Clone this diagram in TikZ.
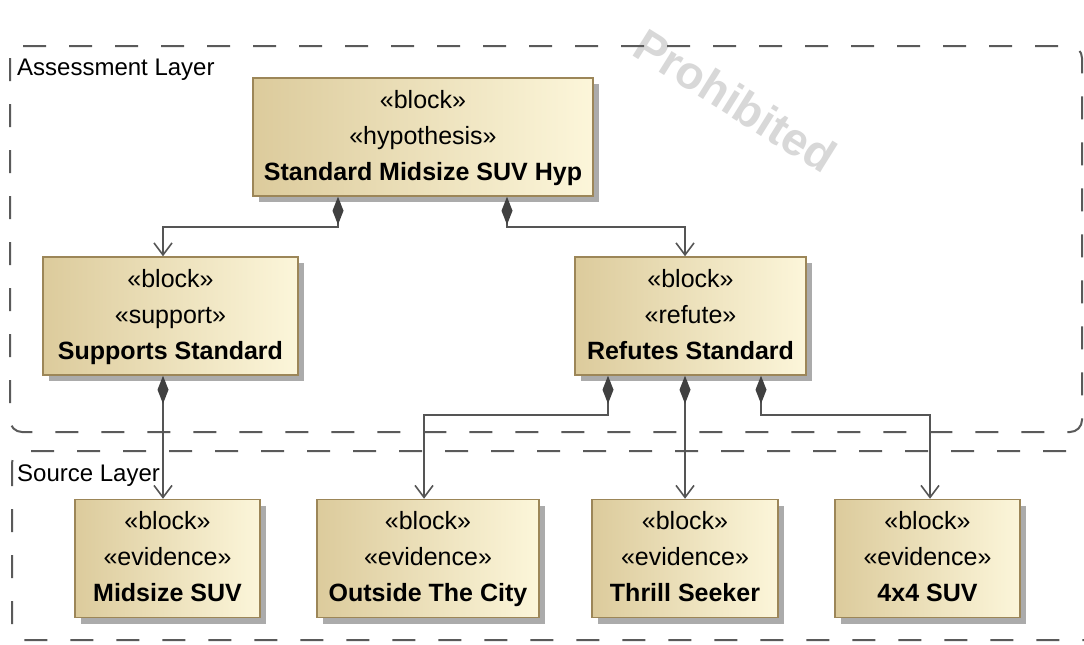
\documentclass[tikz,border=0pt]{standalone}
\usepackage{fontspec}
\setmainfont{Liberation Sans}
\usetikzlibrary{arrows.meta,shadows,calc}
\definecolor{boxL}{HTML}{DCCB9C}
\definecolor{boxR}{HTML}{FCF6DA}
\definecolor{boxB}{HTML}{9C8658}
\definecolor{lineC}{HTML}{555555}
\definecolor{diaC}{HTML}{404040}
\definecolor{frameC}{HTML}{5A5A5A}
\definecolor{wmC}{HTML}{D8D8D8}
\definecolor{shadowC}{HTML}{ABABAB}
\newcommand{\blocktext}[2]{\strut«block»\\«#1»\\\textbf{#2}\strut}
\begin{document}
\begin{tikzpicture}[x=1pt,y=-1pt,
  blk/.style={draw=boxB, line width=1.5pt, left color=boxL, right color=boxR,
    inner sep=0pt, align=center, font=\fontsize{25}{36}\selectfont,
    minimum height=118pt,
    drop shadow={shadow xshift=6pt, shadow yshift=-6pt, fill=shadowC, opacity=1, draw=none}},
  comp/.style={draw=lineC, line width=1.6pt,
    {Diamond[length=28pt,width=11pt,fill=diaC,color=diaC]}-{Straight Barb[length=12pt,width=18pt]}},
  frame/.style={draw=frameC, line width=2pt, dash pattern=on 23pt off 23pt, rounded corners=12pt},
  layerlabel/.style={anchor=base west, font=\fontsize{24}{28}\selectfont, inner sep=0pt},
  wm/.style={text=wmC, font=\fontsize{46}{50}\selectfont\bfseries, inner sep=0pt, rotate=-32}
]
\useasboundingbox (0,0) rectangle (1084,645);
\clip (0,0) rectangle (1084,645);
\fill[white] (0,0) rectangle (1084,645);

% watermark
\node[wm, anchor=base west] (wm1) at (630,54) {Prohibited};

% layer frames
\draw[frame] (10,46) rectangle (1082,432);
\draw[frame] (12,451) rectangle (1100,640);
\node[layerlabel] (al) at (17,75) {Assessment Layer};
\node[layerlabel] (sl) at (17,481) {Source Layer};

% blocks
\node[blk, minimum width=340pt] (hyp) at (423,137) {\blocktext{hypothesis}{Standard Midsize SUV Hyp}};
\node[blk, minimum width=255pt] (sup) at (170.5,316) {\blocktext{support}{Supports Standard}};
\node[blk, minimum width=231pt] (ref) at (690.5,316) {\blocktext{refute}{Refutes Standard}};
\node[blk, minimum width=185pt] (mid) at (167.5,558.5) {\blocktext{evidence}{Midsize SUV}};
\node[blk, minimum width=222pt] (out) at (428,558.5) {\blocktext{evidence}{Outside The City}};
\node[blk, minimum width=186pt] (thr) at (685,558.5) {\blocktext{evidence}{Thrill Seeker}};
\node[blk, minimum width=185pt] (fxf) at (927.5,558.5) {\blocktext{evidence}{4x4 SUV}};

% connectors
\draw[comp] ([xshift=-85pt]hyp.south) -- ++(0,30) -| ([xshift=-7.5pt]sup.north);
\draw[comp] ([xshift=84pt]hyp.south) -- ++(0,30) -| ([xshift=-5.5pt]ref.north);
\coordinate (s1) at ([xshift=-7.5pt]sup.south);
\draw[comp] (s1) -- (s1 |- mid.north);
\draw[comp] ([xshift=-82.5pt]ref.south) -- ++(0,39) -| ([xshift=-4pt]out.north);
\coordinate (r2) at ([xshift=-5.5pt]ref.south);
\draw[comp] (r2) -- (r2 |- thr.north);
\draw[comp] ([xshift=70.5pt]ref.south) -- ++(0,39) -| ([xshift=2.5pt]fxf.north);
\end{tikzpicture}
\end{document}
